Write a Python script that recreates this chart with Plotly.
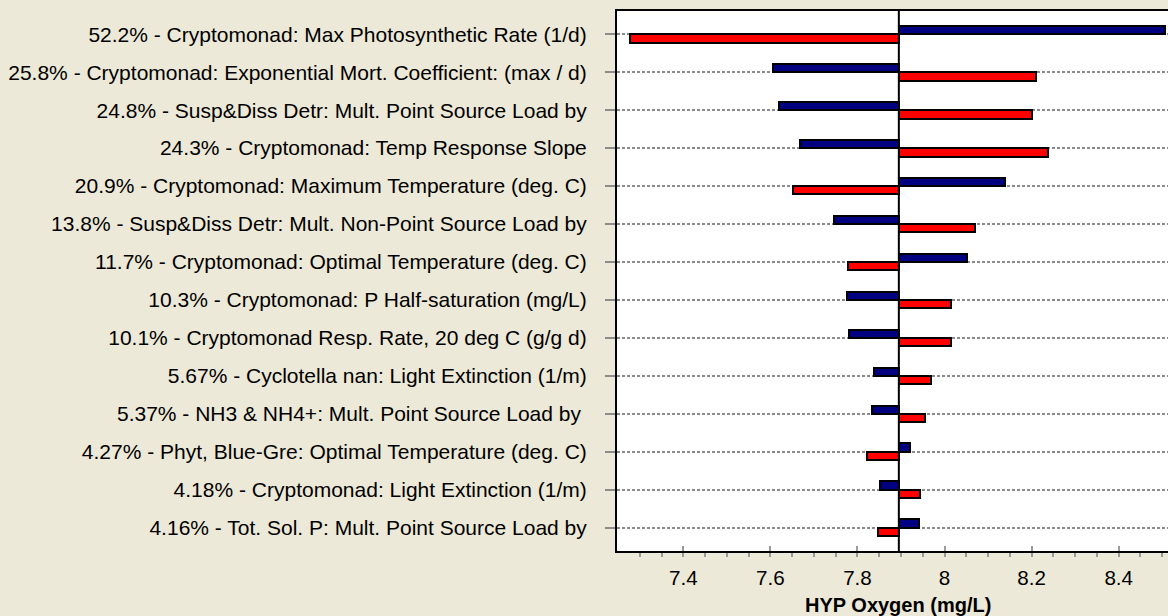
import plotly.graph_objects as go

# Parameters, most influential first
labels = [
    "52.2% - Cryptomonad: Max Photosynthetic Rate (1/d)",
    "25.8% - Cryptomonad: Exponential Mort. Coefficient: (max / d)",
    "24.8% - Susp&Diss Detr: Mult. Point Source Load by",
    "24.3% - Cryptomonad: Temp Response Slope",
    "20.9% - Cryptomonad: Maximum Temperature (deg. C)",
    "13.8% - Susp&Diss Detr: Mult. Non-Point Source Load by",
    "11.7% - Cryptomonad: Optimal Temperature (deg. C)",
    "10.3% - Cryptomonad: P Half-saturation (mg/L)",
    "10.1% - Cryptomonad Resp. Rate, 20 deg C (g/g d)",
    "5.67% - Cyclotella nan: Light Extinction (1/m)",
    "5.37% - NH3 & NH4+: Mult. Point Source Load by\u00a0",
    "4.27% - Phyt, Blue-Gre: Optimal Temperature (deg. C)",
    "4.18% - Cryptomonad: Light Extinction (1/m)",
    "4.16% - Tot. Sol. P: Mult. Point Source Load by",
]

# Baseline model result and the result at each end of the parameter range
baseline = 7.895
blue_result = [8.507, 7.607, 7.619, 7.669, 8.139, 7.747, 8.052, 7.776, 7.781,
               7.839, 7.834, 7.921, 7.851, 7.941]
red_result = [7.277, 8.211, 8.200, 8.238, 7.651, 8.069, 7.779, 8.014, 8.014,
              7.969, 7.956, 7.823, 7.944, 7.847]

x_ticks = [7.4, 7.6, 7.8, 8.0, 8.2, 8.4]
x_tick_text = ["7.4", "7.6", "7.8", "8", "8.2", "8.4"]

BG = "#ECE9D8"
FONT = "Liberation Sans, Arial, sans-serif"
bar_w = 0.22

fig = go.Figure()
fig.add_trace(go.Bar(
    y=labels,
    x=[v - baseline for v in blue_result],
    base=baseline,
    orientation="h",
    width=bar_w,
    offset=-bar_w,
    marker=dict(color="#000080", line=dict(color="#000000", width=2)),
    showlegend=False,
))
fig.add_trace(go.Bar(
    y=labels,
    x=[v - baseline for v in red_result],
    base=baseline,
    orientation="h",
    width=bar_w,
    offset=0,
    marker=dict(color="#FF0000", line=dict(color="#000000", width=2)),
    showlegend=False,
))

# vertical line at the baseline result
fig.add_shape(type="line", xref="x", yref="paper", x0=baseline, x1=baseline,
              y0=0, y1=1, line=dict(color="#000000", width=2), layer="above")

fig.add_annotation(text="<b>HYP Oxygen (mg/L)</b>", xref="paper", yref="paper",
                   x=0.51, y=-0.1, xanchor="center", yanchor="middle",
                   showarrow=False, font=dict(family=FONT, size=20, color="#000000"))

fig.update_layout(
    width=1168, height=616,
    margin=dict(l=617, r=0, t=11, b=65, pad=0),
    paper_bgcolor=BG, plot_bgcolor="#FFFFFF",
    barmode="overlay", bargap=0,
    font=dict(family=FONT, size=21, color="#000000"),
)

fig.update_xaxes(
    range=[7.2477, 8.5132],
    tickvals=x_ticks, ticktext=x_tick_text,
    ticks="inside", ticklen=5, tickwidth=2, tickcolor="#9a9a9a",
    minor=dict(ticks="outside", ticklen=4, tickwidth=2, tickcolor="#9a9a9a",
               dtick=0.05, tick0=7.25, showgrid=False),
    ticklabelstandoff=7,
    showgrid=False, zeroline=False,
    showline=True, linecolor="#000000", linewidth=2, mirror=True,
    tickfont=dict(family=FONT, size=20.6, color="#000000"),
)

fig.update_yaxes(
    type="category", categoryorder="array", categoryarray=labels,
    range=[13.613, -0.613],
    ticks="outside", ticklen=10, tickwidth=2, tickcolor="#8c8c8c",
    ticklabelstandoff=14,
    showgrid=True, gridcolor="#8c8c8c", gridwidth=1.5, griddash="3px,2px",
    zeroline=False,
    showline=True, linecolor="#000000", linewidth=2, mirror=False,
    tickfont=dict(family=FONT, size=21, color="#000000"),
)

fig.write_html("out.html")
